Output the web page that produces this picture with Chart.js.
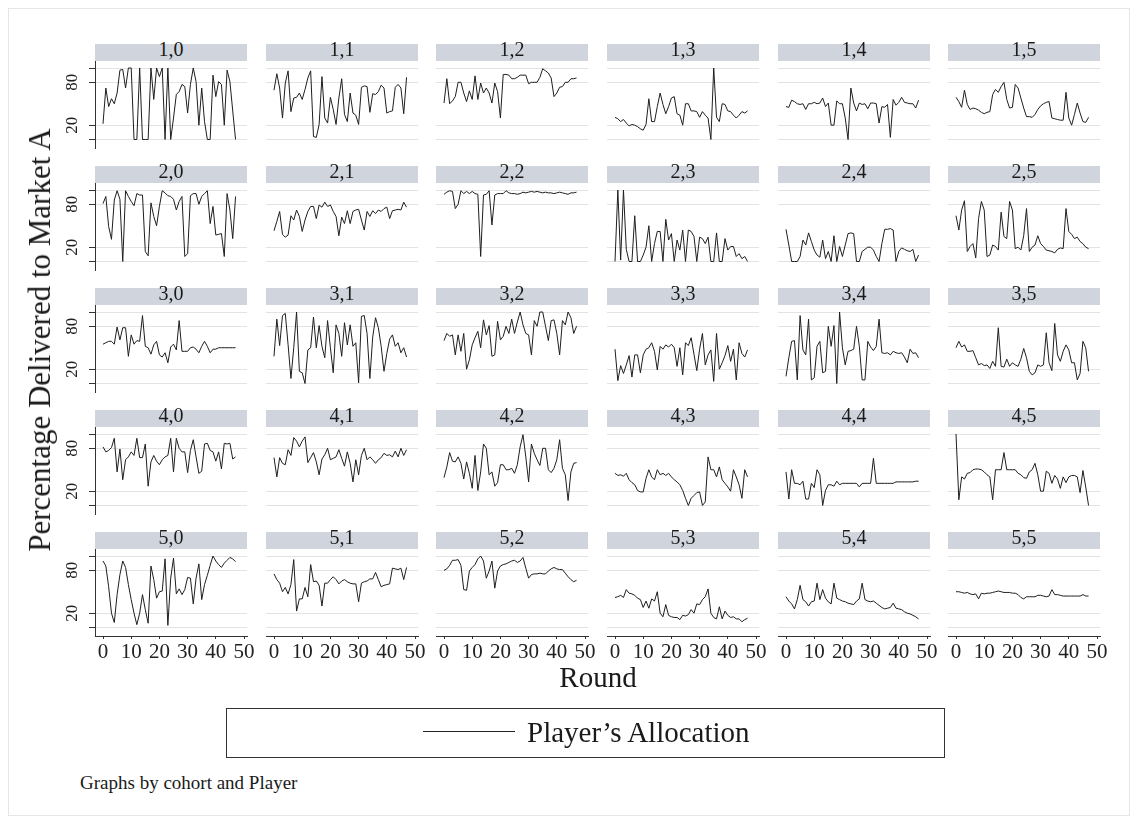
<!DOCTYPE html>
<html>
<head>
<meta charset="utf-8">
<script src="https://cdn.jsdelivr.net/npm/chart.js@4.4.1/dist/chart.umd.min.js"></script>
<style>
  html, body { margin: 0; padding: 0; background: #ffffff; }
  body { width: 1139px; height: 825px; position: relative; overflow: hidden;
         font-family: "Liberation Serif", "Times New Roman", serif; color: #1a1a1a; }
  .frame { position: absolute; left: 8px; top: 8px; width: 1122px; height: 808px;
           border: 1px solid #e6e6e6; box-sizing: border-box; }
  .strip { position: absolute; background: #d0d5dd; }
  .stripText { position: absolute; font-size: 20px; line-height: 20px; text-align: center; white-space: nowrap; }
  canvas { position: absolute; }
  .ytitle { position: absolute; left: 40px; top: 340px; font-size: 31px; white-space: nowrap;
            transform: translate(-50%, -50%) rotate(-90deg); }
  .xtitle { position: absolute; left: 598px; top: 677px; font-size: 29px; white-space: nowrap;
            transform: translate(-50%, -50%); }
  .legend { position: absolute; left: 226px; top: 708px; width: 719px; height: 50px;
            border: 1px solid #333; box-sizing: border-box; }
  .legendLine { position: absolute; left: 423px; top: 731px; width: 92px; height: 0;
                border-top: 1.5px solid #222; }
  .legendText { position: absolute; left: 527px; top: 732px; font-size: 29px; white-space: nowrap;
                transform: translateY(-50%); }
  .note { position: absolute; left: 80px; top: 783px; font-size: 19px; white-space: nowrap;
          transform: translateY(-50%); }
</style>
</head>
<body>
<div class="frame"></div>
<div id="panels"></div>
<div class="ytitle">Percentage Delivered to Market A</div>
<div class="xtitle">Round</div>
<div class="legend"></div>
<div class="legendLine"></div>
<div class="legendText">Player’s Allocation</div>
<div class="note">Graphs by cohort and Player</div>

<script>
// Panel grid: cohorts are rows, players are columns
const cohorts = [1, 2, 3, 4, 5];
const players = [0, 1, 2, 3, 4, 5];

// Axis ticks
const xTickValues = [0, 10, 20, 30, 40, 50];
const yGridValues = [0, 20, 80, 100];
const yTickLabels = [20, 80];

// Allocation to market A (percent), one value per round
const alloc_1_0 = [22,72,46,57,50,65,97,98,72,100,100,0,0,100,0,0,0,100,56,100,88,100,0,100,0,30,63,67,77,74,37,77,100,81,20,72,25,0,0,90,60,81,77,20,97,81,40,0];
const alloc_1_1 = [69,92,72,30,79,96,39,58,59,65,56,70,86,96,4,3,21,88,30,23,59,42,21,58,85,35,25,65,37,34,21,73,75,74,38,64,63,67,76,72,37,39,40,73,77,72,36,87];
const alloc_1_2 = [51,85,50,54,60,80,80,65,53,68,56,89,56,79,65,72,65,51,79,67,30,91,91,90,85,85,87,90,90,90,78,80,80,80,87,99,96,93,86,60,65,73,74,80,80,85,85,86];
const alloc_1_3 = [31,29,25,28,23,19,21,20,18,15,13,21,57,25,25,46,65,49,36,46,58,60,36,34,20,50,50,40,40,39,31,39,34,30,0,100,31,25,50,49,40,39,34,30,34,39,37,40];
const alloc_1_4 = [46,45,55,53,50,49,50,42,50,50,52,50,51,58,46,51,20,20,54,50,50,30,0,72,51,40,51,49,50,43,51,51,50,23,46,45,49,3,56,48,52,59,52,51,50,50,44,55];
const alloc_1_5 = [59,53,45,69,49,42,44,43,41,38,36,38,39,63,70,66,74,80,56,44,45,77,72,58,44,32,32,31,35,42,47,50,52,53,30,29,28,27,27,66,30,20,35,51,37,25,24,31];

const alloc_2_0 = [81,91,49,31,86,99,87,0,99,91,84,78,95,93,93,14,8,82,63,50,77,99,96,92,91,87,72,84,91,7,11,92,95,95,80,91,95,99,53,77,37,38,39,7,95,72,32,91];
const alloc_2_1 = [43,56,70,38,34,37,64,58,72,63,42,58,70,77,77,60,79,76,83,77,79,70,63,36,62,53,71,53,70,72,73,58,44,70,63,71,67,72,70,74,76,60,71,72,73,72,83,76];
const alloc_2_2 = [94,97,99,98,74,80,99,95,98,95,98,95,94,7,93,94,99,51,93,95,95,95,99,96,95,95,94,95,97,96,97,98,97,98,97,96,97,96,96,95,96,97,96,95,94,96,96,97];
const alloc_2_3 = [0,100,2,100,17,0,0,64,0,0,9,20,50,0,25,42,42,0,59,30,39,0,30,16,44,0,44,42,35,0,34,32,25,34,0,0,40,0,0,32,16,21,21,7,11,4,7,0];
const alloc_2_4 = [45,23,0,0,0,7,30,23,40,28,16,9,6,30,4,14,0,36,0,21,7,23,39,40,39,0,0,14,17,20,20,16,7,0,25,45,45,46,44,0,14,19,17,15,14,17,0,9];
const alloc_2_5 = [64,44,72,85,14,21,25,5,60,84,72,7,9,23,21,16,69,35,32,84,72,18,20,16,36,74,14,20,23,36,25,21,16,15,14,12,17,19,18,74,42,38,32,34,28,25,20,18];

const alloc_3_0 = [55,57,59,59,55,79,61,78,78,38,68,55,60,59,95,52,50,41,54,59,40,37,43,29,51,55,47,88,45,45,45,50,51,48,43,52,59,52,43,48,48,50,50,50,50,50,50,50];
const alloc_3_1 = [38,90,53,95,98,54,7,50,100,17,15,0,47,50,93,50,81,52,36,88,50,15,82,70,38,85,54,82,52,57,1,94,95,70,7,65,92,78,52,17,42,62,68,52,57,43,50,37];
const alloc_3_2 = [60,70,66,68,40,68,45,70,20,33,54,64,73,50,89,68,81,38,40,87,61,66,80,70,90,70,86,100,82,70,68,40,88,80,100,100,80,60,88,89,70,40,88,82,100,92,70,80];
const alloc_3_3 = [48,4,25,14,26,39,9,40,40,15,40,48,50,57,45,19,52,48,54,51,55,50,24,50,12,57,53,64,41,18,48,70,26,40,47,3,70,20,29,39,53,31,48,5,57,42,37,47];
const alloc_3_4 = [10,36,59,60,5,95,47,40,90,5,8,52,59,15,17,80,52,81,0,100,50,26,45,46,48,80,52,5,5,59,51,46,52,90,43,42,43,40,45,43,42,43,37,29,48,42,43,36];
const alloc_3_5 = [50,59,51,54,45,45,46,36,26,28,25,26,21,31,24,78,24,23,34,24,29,26,24,34,49,36,17,12,15,26,24,26,71,29,18,84,40,31,45,54,47,29,29,5,14,59,50,17];

const alloc_4_0 = [82,75,77,81,94,47,79,36,64,68,75,70,94,67,67,86,27,61,70,62,57,64,68,70,94,47,94,80,75,75,46,77,92,68,45,48,86,87,77,75,62,75,51,87,86,87,65,68];
const alloc_4_1 = [67,40,67,59,57,78,70,95,90,82,90,96,60,67,74,61,43,65,71,80,64,66,68,78,66,55,75,59,33,64,43,70,80,64,68,64,59,64,67,73,70,71,68,76,68,80,70,78];
const alloc_4_2 = [39,54,74,62,61,68,59,37,61,45,24,70,21,47,86,80,43,47,27,32,57,57,50,50,52,45,57,82,99,68,33,86,73,64,56,80,80,50,46,52,64,92,52,43,7,47,59,60];
const alloc_4_3 = [45,42,43,41,45,36,32,29,21,19,19,38,50,40,36,50,43,45,42,45,40,36,33,29,21,10,0,10,14,18,19,0,5,68,50,50,40,54,36,31,26,20,50,40,29,10,50,40];
const alloc_4_4 = [47,9,50,31,31,29,34,9,9,31,25,50,43,0,21,29,29,27,34,29,31,31,31,31,31,31,26,31,31,31,31,66,31,31,31,31,31,31,31,33,33,33,33,33,33,33,34,34];
const alloc_4_5 = [100,8,40,37,45,46,50,51,51,50,47,43,40,8,50,50,50,74,50,50,50,50,45,43,39,38,47,50,59,43,20,20,48,45,31,42,37,24,40,32,40,42,42,40,18,49,26,0];

const alloc_5_0 = [93,86,57,20,7,46,74,93,84,60,39,20,4,20,46,25,6,86,67,41,50,51,96,3,69,97,47,54,46,53,70,69,33,69,89,39,60,73,87,100,93,88,84,90,94,98,96,92];
const alloc_5_1 = [75,67,62,50,56,47,60,95,23,40,40,56,43,88,64,65,59,30,62,62,67,71,67,61,65,67,64,62,61,61,36,62,64,65,68,68,77,67,57,59,60,61,83,82,81,83,67,84];
const alloc_5_2 = [80,82,87,94,94,95,87,53,52,79,84,88,96,100,93,69,79,93,55,79,86,88,89,91,93,94,91,93,98,83,69,74,75,75,76,75,75,79,82,84,82,81,81,76,71,67,64,66];
const alloc_5_3 = [42,43,45,42,53,48,47,45,41,39,28,37,27,40,37,50,20,15,32,17,15,14,14,11,17,16,18,25,20,33,32,39,43,54,20,14,12,29,12,23,17,14,15,12,12,8,11,13];
const alloc_5_4 = [43,37,33,26,39,59,39,36,30,36,37,62,39,53,41,36,33,62,41,39,37,36,34,33,32,37,40,62,39,37,36,37,34,31,28,26,27,28,34,27,26,25,22,20,19,17,15,12];
const alloc_5_5 = [50,50,49,48,49,47,46,47,40,48,47,48,48,49,50,51,50,49,49,49,48,48,46,42,40,43,43,43,43,45,45,44,43,44,53,46,46,45,44,44,44,44,44,44,44,46,44,44];

const allocationByPanel = {
  '1,0': alloc_1_0, '1,1': alloc_1_1, '1,2': alloc_1_2, '1,3': alloc_1_3, '1,4': alloc_1_4, '1,5': alloc_1_5,
  '2,0': alloc_2_0, '2,1': alloc_2_1, '2,2': alloc_2_2, '2,3': alloc_2_3, '2,4': alloc_2_4, '2,5': alloc_2_5,
  '3,0': alloc_3_0, '3,1': alloc_3_1, '3,2': alloc_3_2, '3,3': alloc_3_3, '3,4': alloc_3_4, '3,5': alloc_3_5,
  '4,0': alloc_4_0, '4,1': alloc_4_1, '4,2': alloc_4_2, '4,3': alloc_4_3, '4,4': alloc_4_4, '4,5': alloc_4_5,
  '5,0': alloc_5_0, '5,1': alloc_5_1, '5,2': alloc_5_2, '5,3': alloc_5_3, '5,4': alloc_5_4, '5,5': alloc_5_5
};

// Layout of the panel grid (page pixels)
const PANEL_X0 = 95, PANEL_DX = 170.65, PANEL_W = 152;
const PLOT_Y0 = 61, ROW_DY = 122, PLOT_H = 87;
const STRIP_Y0 = 44, STRIP_H = 17;
const AXIS_W = 40, RIGHT_PAD = 14, AXIS_H = 30;
const X_MIN = -2.84, X_MAX = 51.06;
const Y_MIN = -11.9, Y_MAX = 109.8;
const SERIF = '"Liberation Serif", "Times New Roman", serif';

// Rotated y tick labels drawn at the scale's own pixel positions
const rotatedYLabels = {
  id: 'rotatedYLabels',
  afterDraw(chart, args, opts) {
    if (!opts.show) return;
    const ys = chart.scales.y;
    const ctx = chart.ctx;
    ctx.save();
    ctx.font = '17px ' + SERIF;
    ctx.fillStyle = '#222';
    ctx.textAlign = 'center';
    ctx.textBaseline = 'middle';
    yTickLabels.forEach(v => {
      ctx.save();
      ctx.translate(chart.chartArea.left - 22, ys.getPixelForValue(v));
      ctx.rotate(-Math.PI / 2);
      ctx.fillText(String(v), 0, 0);
      ctx.restore();
    });
    ctx.restore();
  }
};

const host = document.getElementById('panels');

cohorts.forEach((cohort, r) => {
  players.forEach((player, c) => {
    const key = cohort + ',' + player;
    const values = allocationByPanel[key];
    const left = Math.round(PANEL_X0 + PANEL_DX * c);
    const plotTop = PLOT_Y0 + ROW_DY * r;
    const isLeft = c === 0;
    const isBottom = r === cohorts.length - 1;

    // header strip
    const strip = document.createElement('div');
    strip.className = 'strip';
    strip.style.left = left + 'px';
    strip.style.top = (STRIP_Y0 + ROW_DY * r) + 'px';
    strip.style.width = PANEL_W + 'px';
    strip.style.height = STRIP_H + 'px';
    host.appendChild(strip);

    const label = document.createElement('div');
    label.className = 'stripText';
    label.style.left = left + 'px';
    label.style.width = PANEL_W + 'px';
    label.style.top = (STRIP_Y0 + ROW_DY * r - 5.5) + 'px';
    label.textContent = key;
    host.appendChild(label);

    // plot canvas
    const cv = document.createElement('canvas');
    const W = AXIS_W + PANEL_W + RIGHT_PAD;
    const H = PLOT_H + AXIS_H;
    cv.width = W; cv.height = H;
    cv.style.width = W + 'px'; cv.style.height = H + 'px';
    cv.style.left = (left - AXIS_W) + 'px';
    cv.style.top = plotTop + 'px';
    host.appendChild(cv);

    new Chart(cv, {
      type: 'line',
      data: {
        datasets: [{
          data: values.map((v, i) => ({ x: i, y: v })),
          borderColor: '#1e1e1e',
          borderWidth: 1,
          pointRadius: 0,
          tension: 0,
          fill: false
        }]
      },
      options: {
        responsive: false,
        animation: false,
        devicePixelRatio: 1,
        layout: { padding: { left: 0, right: RIGHT_PAD, top: 0, bottom: 0 }, autoPadding: false },
        plugins: {
          legend: { display: false },
          tooltip: { enabled: false },
          rotatedYLabels: { show: isLeft }
        },
        scales: {
          x: {
            type: 'linear',
            min: X_MIN,
            max: X_MAX,
            afterBuildTicks: s => { s.ticks = xTickValues.map(v => ({ value: v })); },
            afterFit: s => { s.height = AXIS_H; },
            grid: { drawOnChartArea: false, drawTicks: isBottom, tickLength: 3, tickColor: '#333' },
            border: { display: isBottom, color: '#333', width: 1 },
            ticks: {
              display: isBottom, autoSkip: false, maxRotation: 0, minRotation: 0, padding: 1,
              color: '#222', font: { family: SERIF, size: 21 }
            }
          },
          y: {
            type: 'linear',
            min: Y_MIN,
            max: Y_MAX,
            afterBuildTicks: s => { s.ticks = yGridValues.map(v => ({ value: v })); },
            afterFit: s => { s.width = AXIS_W; },
            grid: { color: '#e3e3e3', lineWidth: 1, drawTicks: isLeft, tickLength: 6, tickColor: '#333' },
            border: { display: isLeft, color: '#333', width: 1 },
            ticks: { display: false }
          }
        }
      },
      plugins: [rotatedYLabels]
    });
  });
});
</script>
</body>
</html>
